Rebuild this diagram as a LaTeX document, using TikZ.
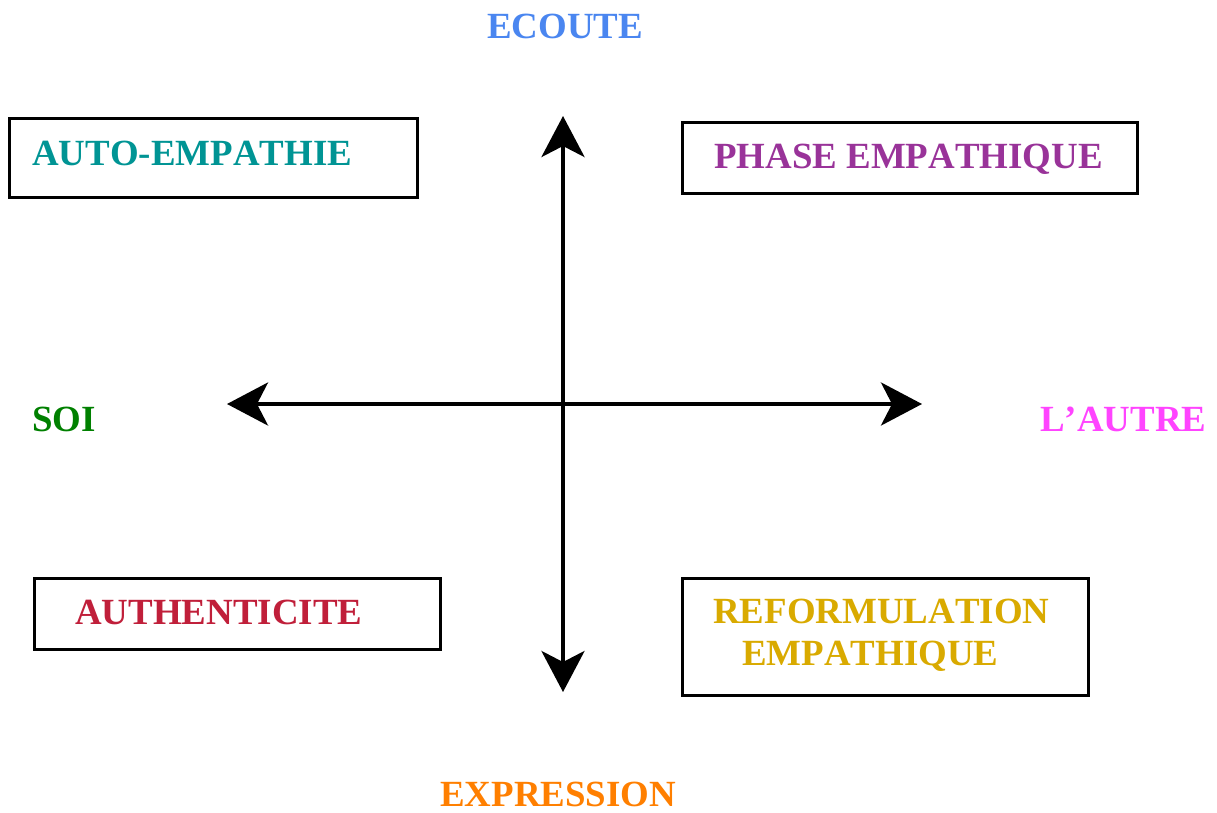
\documentclass[tikz,border=0pt]{standalone}
\usepackage{fontspec}
\setmainfont[Kerning=Off]{Liberation Serif}
\usetikzlibrary{arrows.meta}
\definecolor{cEcoute}{HTML}{4A86F0}
\definecolor{cSoi}{HTML}{008000}
\definecolor{cAutre}{HTML}{FF44FF}
\definecolor{cExpr}{HTML}{FF7F00}
\definecolor{cAuto}{HTML}{009494}
\definecolor{cPhase}{HTML}{993399}
\definecolor{cAuth}{HTML}{C01F3A}
\definecolor{cRef}{HTML}{D9AA00}
\tikzset{
  lbl/.style={inner sep=0pt, anchor=base west, font=\fontsize{36.9}{44}\selectfont\bfseries},
  boxnode/.style={draw=black, line width=3pt, inner sep=0pt, anchor=north west},
  axis/.style={line width=4pt, {Stealth[length=41pt,width=43pt,inset=11pt]}-{Stealth[length=41pt,width=43pt,inset=11pt]}}
}
\begin{document}
\begin{tikzpicture}[x=1pt,y=-1pt]
\useasboundingbox (0,0) rectangle (1217,812);
% boxes
\node[boxnode, minimum width=408pt, minimum height=79pt] (b1) at (8,117) {};
\node[boxnode, minimum width=455pt, minimum height=71pt] (b2) at (681,121) {};
\node[boxnode, minimum width=406pt, minimum height=71pt] (b3) at (33,577) {};
\node[boxnode, minimum width=406pt, minimum height=117pt] (b4) at (681,577) {};
% box texts
\node[lbl, text=cAuto] (t1) at (32,165) {AUTO-EMPATHIE};
\node[lbl, text=cPhase] (t2) at (714,168) {PHASE EMPATHIQUE};
\node[lbl, text=cAuth] (t3) at (75,624) {AUTHENTICITE};
\node[lbl, text=cRef] (t4a) at (713,623) {REFORMULATION};
\node[lbl, text=cRef] (t4b) at (742,665) {EMPATHIQUE};
% axis labels
\node[lbl, text=cEcoute] (ecoute) at (487,38) {ECOUTE};
\node[lbl, text=cSoi] (soi) at (32,431) {SOI};
\node[lbl, text=cAutre] (autre) at (1040,431) {L’AUTRE};
\node[lbl, text=cExpr] (expr) at (440,806) {EXPRESSION};
% axes
\coordinate (top) at (563,116);
\coordinate (bot) at (563,692);
\coordinate (lft) at (227,404);
\coordinate (rgt) at (922,404);
\draw[axis] (top) -- (bot);
\draw[axis] (lft) -- (rgt);
\end{tikzpicture}
\end{document}
